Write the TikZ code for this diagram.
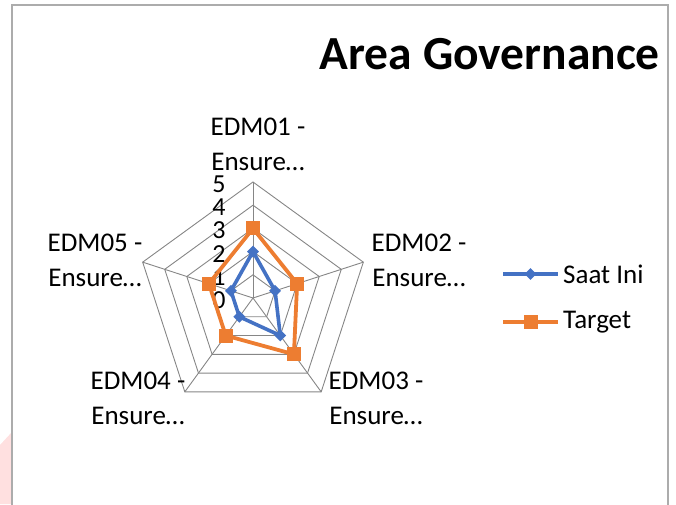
\documentclass[tikz,border=0pt]{standalone}
\usepackage{fontspec}
\setmainfont{Carlito}
\usetikzlibrary{positioning,shapes.geometric,calc}

\definecolor{gridgray}{RGB}{134,134,134}
\definecolor{framegray}{RGB}{172,172,172}
\definecolor{saatblue}{RGB}{68,114,196}
\definecolor{targetorange}{RGB}{237,125,49}
\definecolor{markpink}{RGB}{255,224,224}

\tikzset{
	gridline/.style={draw=gridgray, line width=0.9pt},
	saatline/.style={draw=saatblue, line width=3.6pt, line join=round},
	targetline/.style={draw=targetorange, line width=3.8pt, line join=round},
	saatmark/.style={diamond, fill=saatblue, inner sep=0pt, minimum width=12pt, minimum height=12pt},
	targetmark/.style={rectangle, fill=targetorange, inner sep=0pt, minimum size=14pt},
	axislabel/.style={font=\fontsize{27}{35}\selectfont, align=center, inner sep=0pt},
	ticklabel/.style={font=\fontsize{26}{30}\selectfont, inner sep=0pt},
	legendlabel/.style={font=\fontsize{27}{30}\selectfont, anchor=west, inner sep=0pt}
}

\begin{document}
\begin{tikzpicture}[x=1pt, y=1pt]
	\useasboundingbox (0,0) rectangle (676,504);
	% Background and frame:
	\fill[markpink] (0,59) -- (12,72) -- (12,0) -- (0,0) -- cycle;
	\draw[framegray, line width=1.4pt] (12,-5) rectangle (668,499);
	\node[font=\fontsize{47.5}{56}\selectfont\bfseries, anchor=base east, inner sep=0pt] (title) at (660,434) {Area Governance};

	\begin{scope}[shift={(253,206)}]
		% Grid:
		\coordinate (o) at (0,0);
		\foreach \k in {1,...,5}{
			\foreach \i in {1,...,5}{
				\coordinate (g\k-\i) at ({90-72*(\i-1)}:{23.2*\k});
			}
		}
		\foreach \k in {1,...,5}{
			\draw[gridline] (g\k-1) -- (g\k-2) -- (g\k-3) -- (g\k-4) -- (g\k-5) -- cycle;
		}
		\foreach \i in {1,...,5}{
			\draw[gridline] (o) -- (g5-\i);
		}
		\foreach \k in {0,...,5}{
			\node[ticklabel] (t\k) at (-34,{23.2*\k-2}) {\k};
		}

		% Series:
		\draw[saatline] (g2-1) -- (g1-2) -- (g2-3) -- (g1-4) -- (g1-5) -- cycle;
		\draw[targetline] (g3-1) -- (g2-2) -- (g3-3) -- (g2-4) -- (g2-5) -- cycle;
		\foreach \p in {g2-1,g1-2,g2-3,g1-4,g1-5}{
			\node[saatmark] at (\p) {};
		}
		\foreach \p in {g3-1,g2-2,g3-3,g2-4,g2-5}{
			\node[targetmark] at (\p) {};
		}
	\end{scope}

	% Axis labels:
	\node[axislabel] (edm01) at (258,360) {EDM01 -\\ Ensure\ldots};
	\node[axislabel] (edm02) at (419,244) {EDM02 -\\ Ensure\ldots};
	\node[axislabel] (edm03) at (376,106) {EDM03 -\\ Ensure\ldots};
	\node[axislabel] (edm04) at (138,106) {EDM04 -\\ Ensure\ldots};
	\node[axislabel] (edm05) at (95,244) {EDM05 -\\ Ensure\ldots};

	% Legend:
	\coordinate (ls) at (503,230);
	\coordinate (le) at (558,230);
	\draw[saatline] (ls) -- (le);
	\node[saatmark] at ($(ls)!0.5!(le)$) {};
	\node[legendlabel] (lsaat) at (563,230) {Saat Ini};
	\coordinate (lt) at (503,182);
	\coordinate (lu) at (558,182);
	\draw[targetline] (lt) -- (lu);
	\node[targetmark] at ($(lt)!0.5!(lu)$) {};
	\node[legendlabel] (ltarget) at (563,182) {Target};
\end{tikzpicture}
\end{document}
